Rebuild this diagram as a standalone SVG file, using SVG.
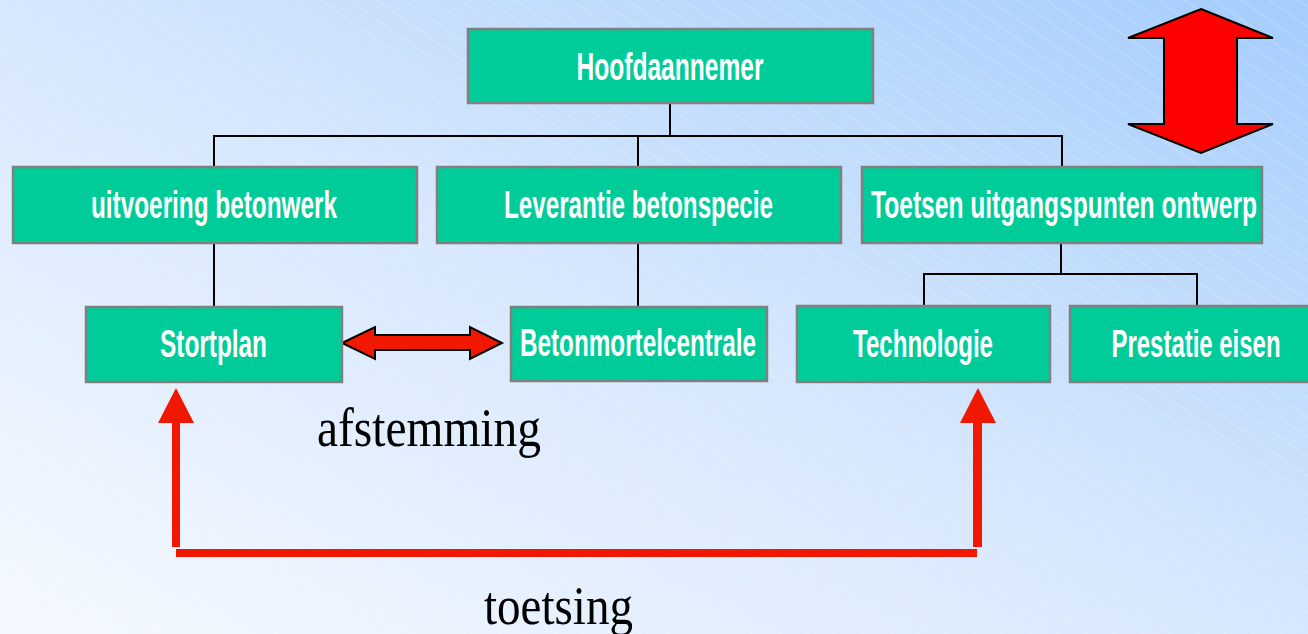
<svg xmlns="http://www.w3.org/2000/svg" width="1308" height="634" viewBox="0 0 1308 634">
  <defs>
    <linearGradient id="bg" x1="0" y1="1" x2="1" y2="0">
      <stop offset="0" stop-color="#f5f9ff"/>
      <stop offset="0.5" stop-color="#d6e7fd"/>
      <stop offset="1" stop-color="#a4cdfc"/>
    </linearGradient>
    <pattern id="hatch" width="40" height="16" patternUnits="userSpaceOnUse" patternTransform="rotate(35)">
      <line x1="0" y1="8" x2="40" y2="8" stroke="#ffffff" stroke-width="1" stroke-opacity="0.25"/>
    </pattern>
  </defs>
  <style>
    .box { fill: #00cc99; stroke: #808080; stroke-width: 2.5; }
    .lbl { font-family: "Liberation Sans Narrow", "Liberation Sans", Arial, sans-serif; font-weight: bold; font-size: 38px; fill: #ffffff; text-anchor: middle; }
    .tree { stroke: #000000; stroke-width: 2; fill: none; }
    .red { stroke: #f01800; fill: none; }
    .head { fill: #f01800; }
    .note { font-family: "Liberation Serif", "Times New Roman", serif; font-size: 54px; fill: #000000; text-anchor: middle; }
  </style>

  <rect x="0" y="0" width="1308" height="634" fill="url(#bg)"/>
  <rect x="0" y="0" width="1308" height="634" fill="url(#hatch)"/>

  <g id="connectors">
    <polyline class="tree" points="670,103 670,136"/>
    <polyline class="tree" points="214,167 214,136 1062,136 1062,167"/>
    <polyline class="tree" points="638,136 638,167"/>
    <polyline class="tree" points="214,243 214,307"/>
    <polyline class="tree" points="638,243 638,307"/>
    <polyline class="tree" points="1061,243 1061,274"/>
    <polyline class="tree" points="924,306 924,274 1197,274 1197,306"/>

    <polygon points="342,343 375,327 375,335 470,335 470,327 502,343 470,359 470,350 375,350 375,359" fill="#f01800" stroke="#000000" stroke-width="2" stroke-linejoin="miter"/>

    <line class="red" x1="176" y1="547" x2="176" y2="420" stroke-width="8"/>
    <polygon class="head" points="176,388 194,423 158,423"/>
    <line class="red" x1="977.5" y1="547" x2="977.5" y2="420" stroke-width="9"/>
    <polygon class="head" points="978,388 996,423 960,423"/>
    <line class="red" x1="176" y1="553" x2="977" y2="553" stroke-width="8"/>
  </g>

  <g id="big-arrow">
    <polygon points="1201,9 1273,38 1237,38 1237,124 1273,124 1201,153 1128,124 1164,124 1164,38 1128,38" fill="#ff0000" stroke="#000000" stroke-width="2"/>
  </g>

  <g id="node-hoofdaannemer">
    <rect class="box" x="468" y="29" width="405" height="74"/>
    <text class="lbl" x="670" y="80" textLength="187" lengthAdjust="spacingAndGlyphs">Hoofdaannemer</text>
  </g>
  <g id="node-uitvoering">
    <rect class="box" x="13" y="167" width="404" height="76"/>
    <text class="lbl" x="214" y="218" textLength="246" lengthAdjust="spacingAndGlyphs">uitvoering betonwerk</text>
  </g>
  <g id="node-leverantie">
    <rect class="box" x="437" y="167" width="404" height="76"/>
    <text class="lbl" x="638.5" y="218" textLength="269" lengthAdjust="spacingAndGlyphs">Leverantie betonspecie</text>
  </g>
  <g id="node-toetsen">
    <rect class="box" x="862" y="167" width="400" height="76"/>
    <text class="lbl" x="1064" y="218" textLength="386" lengthAdjust="spacingAndGlyphs">Toetsen uitgangspunten ontwerp</text>
  </g>
  <g id="node-stortplan">
    <rect class="box" x="86" y="307" width="256" height="75"/>
    <text class="lbl" x="213.5" y="357" textLength="107" lengthAdjust="spacingAndGlyphs">Stortplan</text>
  </g>
  <g id="node-betonmortelcentrale">
    <rect class="box" x="511" y="307" width="256" height="74"/>
    <text class="lbl" x="638" y="356" textLength="236" lengthAdjust="spacingAndGlyphs">Betonmortelcentrale</text>
  </g>
  <g id="node-technologie">
    <rect class="box" x="797" y="306" width="253" height="76"/>
    <text class="lbl" x="923" y="357" textLength="140" lengthAdjust="spacingAndGlyphs">Technologie</text>
  </g>
  <g id="node-prestatie">
    <rect class="box" x="1070" y="306" width="254" height="76"/>
    <text class="lbl" x="1196" y="357" textLength="169" lengthAdjust="spacingAndGlyphs">Prestatie eisen</text>
  </g>

  <text class="note" x="429" y="446" textLength="224" lengthAdjust="spacingAndGlyphs">afstemming</text>
  <text class="note" x="558.5" y="624" textLength="149" lengthAdjust="spacingAndGlyphs">toetsing</text>
</svg>
